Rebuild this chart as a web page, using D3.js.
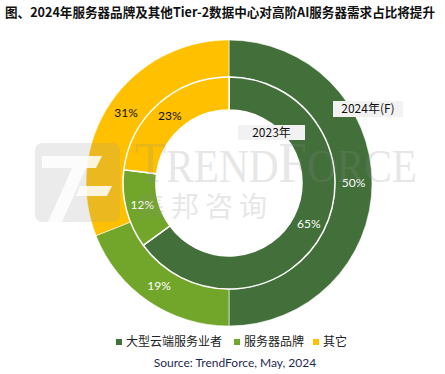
<!DOCTYPE html>
<html>
<head>
<meta charset="utf-8">
<script src="https://cdn.jsdelivr.net/npm/d3@7"></script>
<style>
  body { margin: 0; background: #fff; }
  svg { display: block; }
</style>
</head>
<body>
<div id="chart"></div>
<script>
// data
var categories = ["大型云端服务业者", "服务器品牌", "其它"];
var values2024 = [50, 19, 31];
var values2023 = [65, 12, 23];
var ringLabels = ["2024年(F)", "2023年"];
var colors = ["#43703a", "#72a62b", "#ffc000"];

var width = 445, height = 374;
var cx = 229, cy = 183;

var svg = d3.select("#chart")
  .append("svg")
    .attr("width", width)
    .attr("height", height);

var cjk = "'Noto Sans CJK SC', 'Noto Sans', sans-serif";
var num = "Lato, 'Liberation Sans', sans-serif";

// title
svg.append("text")
  .attr("x", 5)
  .attr("y", 17)
  .attr("textLength", 430)
  .attr("lengthAdjust", "spacingAndGlyphs")
  .style("font-family", cjk)
  .style("font-weight", "bold")
  .style("font-size", "13px")
  .style("fill", "#111")
  .text("图、2024年服务器品牌及其他Tier-2数据中心对高阶AI服务器需求占比将提升");

var pie = d3.pie().sort(null).value(function(d) { return d; });

var g = svg.append("g")
  .attr("transform", "translate(" + cx + "," + cy + ")");

// outer ring = 2024, inner ring = 2023
var outerArc = d3.arc().innerRadius(106).outerRadius(143);
var innerArc = d3.arc().innerRadius(73).outerRadius(106);

g.selectAll(".outer")
  .data(pie(values2024))
  .enter()
  .append("path")
    .attr("d", outerArc)
    .attr("fill", function(d, i) { return colors[i]; })
    .attr("stroke", "#fff")
    .attr("stroke-opacity", 0.7)
    .attr("stroke-width", 0.8);

g.selectAll(".inner")
  .data(pie(values2023))
  .enter()
  .append("path")
    .attr("d", innerArc)
    .attr("fill", function(d, i) { return colors[i]; })
    .attr("stroke", "#fff")
    .attr("stroke-width", 1.5);

// watermark
var wm = svg.append("g").style("pointer-events", "none");
wm.append("rect")
  .attr("x", 35).attr("y", 143)
  .attr("width", 85).attr("height", 79)
  .attr("rx", 7)
  .attr("fill", "#9a9a9a")
  .attr("opacity", 0.2);
wm.append("path")
  .attr("d", "M42,156 L102,156 L96,168 L86,168 L62,222 L48,222 L72,168 L42,168 Z")
  .attr("fill", "#fff")
  .attr("opacity", 0.85);
wm.append("path")
  .attr("d", "M80,186 L112,186 L107,196 L76,196 Z")
  .attr("fill", "#fff")
  .attr("opacity", 0.85);
wm.append("text")
  .attr("x", 135)
  .attr("y", 182)
  .attr("textLength", 282)
  .attr("lengthAdjust", "spacingAndGlyphs")
  .style("font-family", "'Liberation Serif', serif")
  .style("font-size", "47px")
  .style("fill", "#8a8a8a")
  .style("opacity", 0.2)
  .html("<tspan style='font-size:58px'>T</tspan>REND<tspan style='font-size:58px'>F</tspan>ORCE");
wm.append("text")
  .attr("x", 137)
  .attr("y", 217)
  .style("font-family", cjk)
  .style("font-size", "28px")
  .style("letter-spacing", "6px")
  .style("fill", "#8a8a8a")
  .style("opacity", 0.2)
  .text("集邦咨询");

// percentage labels
g.selectAll(".outerLabel")
  .data(pie(values2024))
  .enter()
  .append("text")
    .attr("x", function(d) { return outerArc.centroid(d)[0]; })
    .attr("y", function(d) { return outerArc.centroid(d)[1]; })
    .attr("dy", "0.35em")
    .attr("text-anchor", "middle")
    .style("font-family", num)
    .style("font-size", "12px")
    .style("fill", function(d, i) { return i == 2 ? "#111" : "#fff"; })
    .text(function(d) { return d.data + "%"; });

g.selectAll(".innerLabel")
  .data(pie(values2023))
  .enter()
  .append("text")
    .attr("x", function(d) { return innerArc.centroid(d)[0]; })
    .attr("y", function(d) { return innerArc.centroid(d)[1]; })
    .attr("dy", "0.35em")
    .attr("text-anchor", "middle")
    .style("font-family", num)
    .style("font-size", "12px")
    .style("fill", function(d, i) { return i == 2 ? "#111" : "#fff"; })
    .text(function(d) { return d.data + "%"; });

// ring name boxes
var boxes = [
  {x: 333, y: 101, w: 70, h: 16},
  {x: 238, y: 125, w: 67, h: 15}
];
boxes.forEach(function(b, i) {
  svg.append("rect")
    .attr("x", b.x).attr("y", b.y)
    .attr("width", b.w).attr("height", b.h)
    .attr("fill", "#f2f2f2");
  svg.append("text")
    .attr("x", b.x + b.w / 2)
    .attr("y", b.y + b.h / 2)
    .attr("dy", "0.35em")
    .attr("text-anchor", "middle")
    .style("font-family", cjk)
    .style("font-size", "12px")
    .style("fill", "#111")
    .text(ringLabels[i]);
});

// legend
var legendX = [116, 234, 313];
var legend = svg.selectAll(".legend")
  .data(categories)
  .enter()
  .append("g")
    .attr("transform", function(d, i) { return "translate(" + legendX[i] + ",342)"; });
legend.append("rect")
  .attr("x", 0).attr("y", -3)
  .attr("width", 6).attr("height", 6)
  .attr("fill", function(d, i) { return colors[i]; });
legend.append("text")
  .attr("x", 10)
  .attr("y", 0)
  .attr("dy", "0.35em")
  .style("font-family", cjk)
  .style("font-size", "12px")
  .style("fill", "#222")
  .text(function(d) { return d; });

// source
svg.append("text")
  .attr("x", 235)
  .attr("y", 363)
  .attr("dy", "0.35em")
  .attr("text-anchor", "middle")
  .style("font-family", num)
  .style("font-size", "12px")
  .style("fill", "#1f2a52")
  .text("Source: TrendForce, May, 2024");
</script>
</body>
</html>
